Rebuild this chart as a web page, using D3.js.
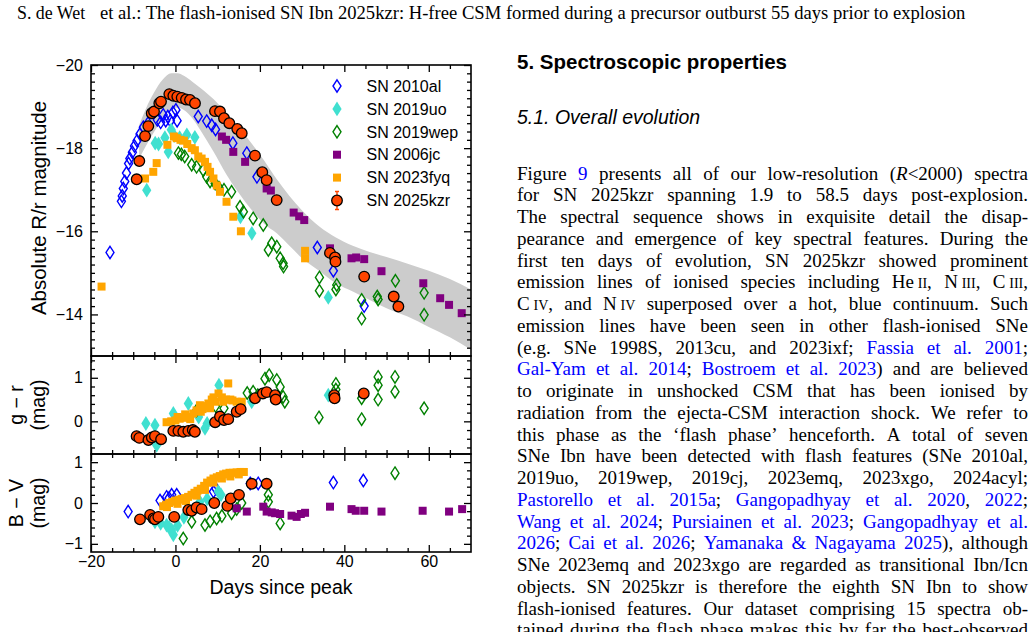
<!DOCTYPE html>
<html><head><meta charset="utf-8">
<script src="https://cdn.jsdelivr.net/npm/d3@7"></script>
<style>html,body{margin:0;padding:0;background:#fff}svg{display:block}</style>
</head><body>
<svg id="c" width="1035" height="632"></svg>
<script>
// ---------------- DATA ----------------
// Template band for SNe Ibn: [day, upper mag, lower mag]
const band = [
 [-8.6,-18.55,-17.75],[-7,-18.95,-18.05],[-5,-19.35,-18.4],[-3,-19.65,-18.7],[-1,-19.8,-18.93],
 [0.5,-19.8,-18.98],[2,-19.74,-18.92],[4,-19.6,-18.72],[6,-19.44,-18.42],[9,-19.18,-17.92],
 [12,-18.85,-17.38],[15,-18.5,-16.92],[18,-18.12,-16.52],[21,-17.7,-16.18],[24,-17.25,-15.95],
 [27,-16.85,-15.65],[30,-16.5,-15.35],[34,-16.12,-15.05],[38,-15.85,-14.75],[42,-15.65,-14.55],
 [46,-15.5,-14.35],[50,-15.38,-14.15],[55,-15.22,-13.95],[60,-15.05,-13.7],[65,-14.85,-13.45],[70,-14.6,-13.15]
];
// Absolute R/r magnitudes [day, mag]
const al_R = [[-15.5,-15.49],[-12.8,-16.72],[-12.6,-16.85],[-12.35,-17.03],[-12.0,-17.2],[-11.6,-17.4],[-11.1,-17.63],[-10.8,-17.75],[-10.2,-17.9],[-9.7,-18.05],[-9.1,-18.18],[-8.4,-18.34],[-7.6,-18.5],[-6.5,-18.6],[-4.3,-18.68],[-3.5,-18.62],[-2.9,-18.8],[-2.3,-18.66],[-1.8,-18.76],[-1.2,-18.66],[-0.6,-18.86],[0.1,-18.92],[0.4,-18.66],[5.4,-18.76],[7.4,-18.65],[8.6,-18.55],[9.5,-18.45],[13.6,-18.12],[16.9,-17.88],[19.3,-17.31],[33.6,-15.61],[37.4,-15.05],[44.7,-14.2]];
const uo_R = [[-6.8,-16.99],[-4.8,-18.12],[-4.0,-18.1],[-2.5,-18.25],[-1.7,-17.91],[-1.0,-18.44],[-0.3,-18.3],[1.0,-18.25],[2.7,-18.32],[4.6,-18.26],[15.4,-16.35],[18.1,-15.95],[36.2,-14.41]];
const wep_R = [[0.7,-17.88],[1.4,-17.85],[2.2,-17.8],[3.85,-17.6],[5.0,-17.55],[6.6,-17.47],[7.4,-17.31],[8.2,-17.2],[9.4,-17.15],[10.3,-17.05],[11.5,-17.0],[13.3,-16.95],[15.3,-16.59],[16.1,-16.47],[18.4,-16.31],[20.8,-16.15],[22.0,-15.55],[22.8,-15.71],[24.0,-15.63],[24.8,-15.35],[25.5,-15.23],[25.6,-15.15],[34.1,-14.89],[34.1,-14.57],[38.2,-14.71],[38.0,-14.6],[44.1,-14.35],[44.1,-13.9],[47.8,-14.43],[48.0,-14.36],[52.1,-14.81],[58.9,-14.52],[58.9,-13.99]];
const jc_R = [[11.0,-18.28],[12.0,-18.2],[13.7,-17.91],[16.5,-17.67],[21.6,-17.03],[22.6,-16.98],[28.0,-16.45],[29.3,-16.36],[30.5,-16.27],[36.6,-15.59],[41.7,-15.35],[42.8,-15.37],[44.7,-15.33],[48.8,-15.04],[58.7,-14.75],[62.7,-14.39],[64.8,-14.23],[67.8,-14.03]];
const fyq_R = [[-17.5,-14.67],[-7.2,-17.27],[-5.25,-17.43],[-4.45,-17.64],[-1.9,-18.08],[-0.35,-18.28],[0.3,-18.24],[1.2,-18.2],[2.0,-18.18],[2.8,-18.1],[3.85,-18.0],[4.6,-17.95],[5.4,-17.8],[6.2,-17.75],[7.0,-17.67],[7.6,-17.55],[8.2,-17.43],[9.0,-17.27],[9.8,-17.1],[10.55,-16.95],[12.1,-16.71],[13.7,-16.35],[15.5,-16.0],[30.7,-15.53],[30.7,-15.35]];
const kzr_R = [[-9.18,-17.25],[-8.56,-17.69],[-7.2,-18.29],[-6.43,-18.53],[-5.62,-18.84],[-5.08,-18.88],[-3.82,-19.08],[-3.42,-19.12],[-1.45,-19.30],[-0.5,-19.26],[0.44,-19.24],[1.48,-19.21],[2.5,-19.17],[3.45,-19.16],[4.63,-19.08],[9.37,-18.89],[10.55,-18.88],[11.5,-18.72],[12.76,-18.6],[14.65,-18.46],[15.7,-18.36],[18.84,-17.82],[20.57,-17.42],[21.6,-17.23],[23.98,-16.75],[36.6,-15.48],[37.8,-15.37],[37.9,-15.27],[44.7,-14.91],[51.7,-14.43],[52.8,-14.19]];
// g - r colours [day, mag]
const uo_gr = [[-7.0,-0.05],[-4.85,-0.09],[-4.45,-0.55],[-3.9,-0.45],[-0.5,0.18],[3.05,0.41],[5.5,0.1],[7.0,-0.16],[7.5,-0.05],[10.3,0.83],[18.06,0.45],[36.2,0.6]];
const wep_gr = [[5.0,0.25],[9.5,0.35],[11.5,0.3],[17.0,0.65],[18.4,0.68],[19.5,0.6],[21.2,0.98],[22.2,1.06],[24.0,0.95],[24.8,0.79],[25.5,0.56],[25.9,0.45],[34.0,0.09],[38.0,0.86],[38.0,0.73],[44.1,0.53],[44.1,0.05],[48.0,1.02],[48.0,0.83],[48.0,0.5],[52.0,1.02],[52.0,0.68],[58.9,0.3]];
const fyq_gr = [[-2.1,-0.02],[-1.0,0.0],[0.0,0.02],[0.5,0.1],[1.0,0.06],[1.85,0.08],[2.3,0.16],[2.8,0.1],[3.5,0.05],[4.2,0.18],[5.0,0.25],[5.8,0.37],[6.0,0.22],[6.4,0.28],[7.0,0.35],[7.8,0.41],[8.2,0.3],[8.6,0.5],[9.0,0.55],[9.4,0.45],[10.2,0.64],[11.0,0.55],[11.3,0.45],[12.0,0.5],[12.5,0.87],[13.0,0.5],[13.5,0.48],[14.5,0.45],[15.7,0.45]];
const kzr_gr = [[-9.2,-0.34],[-8.56,-0.38],[-6.4,-0.43],[-5.6,-0.37],[-4.85,-0.34],[-3.4,-0.41],[-0.5,-0.22],[0.7,-0.22],[1.85,-0.24],[3.05,-0.22],[4.1,-0.2],[4.6,-0.24],[9.4,-0.02],[10.55,0.11],[11.5,0.03],[12.5,0.05],[14.5,0.22],[15.45,0.28],[18.85,0.53],[20.7,0.64],[21.6,0.67],[23.6,0.6],[23.75,0.5],[37.6,0.6],[37.7,0.53],[44.6,0.64]];
// B - V colours [day, mag]
const al_bv = [[-11.2,-0.21],[-3.65,0.06],[-2.1,0.15],[-1.5,0.12],[-0.9,0.2],[0.3,0.2],[9.0,0.28],[9.6,0.35],[17.7,0.48],[19.6,0.48],[37.4,0.5],[44.5,0.55]];
const uo_bv = [[-4.85,-0.46],[-3.5,-0.5],[-2.1,-0.54],[-1.5,-0.6],[-0.9,-0.66],[-0.5,-0.78],[0.5,-0.55],[2.0,-0.35],[4.0,-0.2],[5.8,0.03],[7.5,0.1],[10.15,0.28],[10.8,0.2]];
const wep_bv = [[1.85,-0.87],[3.85,-0.46],[7.0,-0.54],[8.2,-0.45],[9.75,-0.38],[11.0,-0.32],[13.3,-0.25],[14.5,-0.15],[15.7,0.0],[22.0,0.2],[22.0,0.03],[24.8,-0.5],[52.0,0.73]];
const jc_bv = [[14.5,-0.13],[16.9,-0.21],[20.8,-0.09],[21.6,-0.21],[22.8,-0.23],[23.6,-0.25],[24.8,-0.27],[27.5,-0.31],[28.7,-0.34],[29.7,-0.27],[30.7,-0.24],[36.6,-0.09],[41.7,-0.15],[42.7,-0.19],[44.7,-0.19],[48.8,-0.21],[58.55,-0.19],[64.8,-0.21],[67.9,-0.15]];
const fyq_bv = [[-2.9,-0.08],[-2.2,-0.04],[-2.0,-0.1],[-1.5,0.0],[-0.8,0.03],[0.0,0.06],[0.5,-0.02],[0.8,0.08],[1.5,0.1],[2.2,0.12],[2.5,0.05],[3.0,0.15],[3.8,0.2],[4.5,0.25],[5.0,0.18],[5.2,0.3],[6.0,0.35],[6.8,0.42],[7.0,0.32],[7.5,0.5],[8.3,0.55],[9.0,0.6],[9.0,0.5],[9.8,0.63],[10.5,0.66],[11.0,0.6],[11.3,0.7],[12.0,0.72],[12.8,0.74],[13.0,0.65],[13.6,0.74],[14.5,0.75],[15.0,0.7],[15.4,0.76],[16.2,0.76]];
const kzr_bv = [[-8.4,-0.4],[-6.0,-0.29],[-5.2,-0.38],[-4.85,-0.4],[-4.05,-0.34],[-0.3,-0.34],[3.05,-0.17],[3.85,-0.19],[5.0,-0.11],[6.2,-0.15],[9.2,0.0],[12.3,-0.07],[13.1,0.11],[15.05,0.2],[18.06,0.47],[21.6,0.47]];

const legendNames = ["SN 2010al","SN 2019uo","SN 2019wep","SN 2006jc","SN 2023fyq","SN 2025kzr"];
const legendKeys = ["al","uo","wep","jc","fyq","kzr"];
const xMajor = [-20,0,20,40,60];
const magMajor = [-20,-18,-16,-14];
const grMajor = [0,1];
const bvMajor = [-1,0,1];

const headerAuthor = "S. de Wet";
const headerTitle = "et al.: The flash-ionised SN Ibn 2025kzr: H-free CSM formed during a precursor outburst 55 days prior to explosion";
const sectionTitle = "5. Spectroscopic properties";
const subsectionTitle = "5.1. Overall evolution";
const bodyLines = [
"Figure {9} presents all of our low-resolution (_R_<2000) spectra",
"for SN 2025kzr spanning 1.9 to 58.5 days post-explosion.",
"The spectral sequence shows in exquisite detail the disap-",
"pearance and emergence of key spectral features. During the",
"first ten days of evolution, SN 2025kzr showed prominent",
"emission lines of ionised species including He\u2009^II^, N\u2009^III^, C\u2009^III^,",
"C\u2009^IV^, and N\u2009^IV^ superposed over a hot, blue continuum. Such",
"emission lines have been seen in other flash-ionised SNe",
"(e.g. SNe 1998S, 2013cu, and 2023ixf; {Fassia et al. 2001};",
"{Gal-Yam et al. 2014}; {Bostroem et al. 2023}) and are believed",
"to originate in unshocked CSM that has been ionised by",
"radiation from the ejecta-CSM interaction shock. We refer to",
"this phase as the \u2018flash phase\u2019 henceforth. A total of seven",
"SNe Ibn have been detected with flash features (SNe 2010al,",
"2019uo, 2019wep, 2019cj, 2023emq, 2023xgo, 2024acyl;",
"{Pastorello et al. 2015a}; {Gangopadhyay et al. 2020}, {2022};",
"{Wang et al. 2024}; {Pursiainen et al. 2023}; {Gangopadhyay et al.}",
"{2026}; {Cai et al. 2026}; {Yamanaka & Nagayama 2025}), although",
"SNe 2023emq and 2023xgo are regarded as transitional Ibn/Icn",
"objects. SN 2025kzr is therefore the eighth SN Ibn to show",
"flash-ionised features. Our dataset comprising 15 spectra ob-",
"tained during the flash phase makes this by far the best-observed"
];

// ---------------- DRAWING ----------------
const SANS = '"Liberation Sans", Arial, Helvetica, sans-serif';
const SERIF = '"Liberation Serif", "Times New Roman", Times, serif';
const svg = d3.select('#c');
svg.append('rect').attr('width',1035).attr('height',632).attr('fill','#fff');

const x = d3.scaleLinear().domain([-20,70]).range([91,471]);
const yR = d3.scaleLinear().domain([-20,-13]).range([65,356]);
const yGR = d3.scaleLinear().domain([-0.75,1.5]).range([454,356]);
const yBV = d3.scaleLinear().domain([-1.2,1.2]).range([552,454]);

const styles = {
  al:  {shape:'diamond', fill:'none', stroke:'#0000ff'},
  uo:  {shape:'fdiamond', fill:'#40e0d0', stroke:'none'},
  wep: {shape:'diamond', fill:'none', stroke:'#008000'},
  jc:  {shape:'square', fill:'#800080', stroke:'none'},
  fyq: {shape:'square', fill:'#ffa500', stroke:'none'},
  kzr: {shape:'circle', fill:'#ff4500', stroke:'#000'}
};
function shapePath(s){
  if(s==='diamond') return 'M0,-6.2L4,0L0,6.2L-4,0Z';
  if(s==='fdiamond') return 'M0,-7.4L4.6,0L0,7.4L-4.6,0Z';
  if(s==='square') return 'M-4,-4H4V4H-4Z';
  return d3.arc()({innerRadius:0,outerRadius:5.3,startAngle:0,endAngle:2*Math.PI});
}
function drawSeries(g, data, yS, key){
  const st = styles[key];
  g.append('g').selectAll('path').data(data).join('path')
    .attr('transform', d=>`translate(${x(d[0])},${yS(d[1])})`)
    .attr('d', shapePath(st.shape))
    .attr('fill', st.fill)
    .attr('stroke', st.stroke)
    .attr('stroke-width', st.shape==='circle'?1.3:1.4);
}

// clip paths
const defs = svg.append('defs');
[['cR',65,356],['cGR',356,454],['cBV',454,552]].forEach(([id,t,b])=>{
  defs.append('clipPath').attr('id',id).append('rect').attr('x',91).attr('y',t).attr('width',380).attr('height',b-t);
});

// top panel
const gTop = svg.append('g').attr('clip-path','url(#cR)');
gTop.append('path').datum(band)
  .attr('d', d3.area().x(d=>x(d[0])).y0(d=>yR(d[2])).y1(d=>yR(d[1])).curve(d3.curveMonotoneX))
  .attr('fill','#cccccc');
drawSeries(gTop, al_R, yR, 'al');
drawSeries(gTop, uo_R, yR, 'uo');
drawSeries(gTop, wep_R, yR, 'wep');
drawSeries(gTop, jc_R, yR, 'jc');
drawSeries(gTop, fyq_R, yR, 'fyq');
drawSeries(gTop, kzr_R, yR, 'kzr');

const gGR = svg.append('g').attr('clip-path','url(#cGR)');
drawSeries(gGR, uo_gr, yGR, 'uo');
drawSeries(gGR, wep_gr, yGR, 'wep');
drawSeries(gGR, fyq_gr, yGR, 'fyq');
drawSeries(gGR, kzr_gr, yGR, 'kzr');

const gBV = svg.append('g').attr('clip-path','url(#cBV)');
drawSeries(gBV, al_bv, yBV, 'al');
drawSeries(gBV, uo_bv, yBV, 'uo');
drawSeries(gBV, wep_bv, yBV, 'wep');
drawSeries(gBV, jc_bv, yBV, 'jc');
drawSeries(gBV, fyq_bv, yBV, 'fyq');
drawSeries(gBV, kzr_bv, yBV, 'kzr');

// axes
function minorTicks(lo, hi, step, majors){
  const out=[]; const n=Math.round((hi-lo)/step);
  for(let i=0;i<=n;i++){const v=+(lo+i*step).toFixed(4); if(!majors.some(m=>Math.abs(m-v)<1e-6)) out.push(v);}
  return out;
}
function styleAxis(g){
  g.select('.domain').remove();
  g.selectAll('line').attr('stroke','#000').attr('stroke-width',1.3);
  g.attr('font-family',SANS).attr('font-size',16).attr('fill','#000');
  g.selectAll('text').attr('fill','#000');
}
const fmt = d3.format('d');
const xMinor = minorTicks(-15,65,5,xMajor);
function panelAxes(yS, top, bottom, yMaj, yMin, xLabels){
  svg.append('g').attr('transform','translate(91,0)').call(d3.axisLeft(yS).tickValues(yMaj).tickSize(-7).tickPadding(8).tickFormat(fmt)).call(styleAxis);
  svg.append('g').attr('transform','translate(91,0)').call(d3.axisLeft(yS).tickValues(yMin).tickSize(-4).tickFormat('')).call(styleAxis);
  svg.append('g').attr('transform','translate(471,0)').call(d3.axisRight(yS).tickValues(yMaj).tickSize(-7).tickFormat('')).call(styleAxis);
  svg.append('g').attr('transform','translate(471,0)').call(d3.axisRight(yS).tickValues(yMin).tickSize(-4).tickFormat('')).call(styleAxis);
  svg.append('g').attr('transform',`translate(0,${top})`).call(d3.axisTop(x).tickValues(xMajor).tickSize(-7).tickFormat('')).call(styleAxis);
  svg.append('g').attr('transform',`translate(0,${top})`).call(d3.axisTop(x).tickValues(xMinor).tickSize(-4).tickFormat('')).call(styleAxis);
  svg.append('g').attr('transform',`translate(0,${bottom})`).call(d3.axisBottom(x).tickValues(xMajor).tickSize(-7).tickPadding(4).tickFormat(xLabels?fmt:'')).call(styleAxis);
  svg.append('g').attr('transform',`translate(0,${bottom})`).call(d3.axisBottom(x).tickValues(xMinor).tickSize(-4).tickFormat('')).call(styleAxis);
  svg.append('rect').attr('x',91).attr('y',top).attr('width',380).attr('height',bottom-top)
    .attr('fill','none').attr('stroke','#000').attr('stroke-width',1.6);
}
panelAxes(yR, 65, 356, magMajor, minorTicks(-19.8,-13.2,0.2,magMajor), false);
panelAxes(yGR, 356, 454, grMajor, minorTicks(-0.6,1.4,0.2,grMajor), false);
panelAxes(yBV, 454, 552, bvMajor, minorTicks(-1.0,1.0,0.2,bvMajor), true);

// axis titles
function vText(cx, cy, txt, size){
  svg.append('text').attr('transform',`translate(${cx},${cy}) rotate(-90)`)
    .attr('text-anchor','middle').attr('dominant-baseline','central')
    .attr('font-family',SANS).attr('font-size',size).attr('fill','#000').text(txt);
}
vText(38, 208, 'Absolute R/r magnitude', 20.5);
vText(16, 405, 'g \u2212 r', 19.5);
vText(38, 405, '(mag)', 19.5);
vText(16, 503, 'B \u2212 V', 19.5);
vText(38, 503, '(mag)', 19.5);
svg.append('text').attr('x',281).attr('y',594).attr('text-anchor','middle')
  .attr('font-family',SANS).attr('font-size',19.5).attr('fill','#000').text('Days since peak');

// legend
const gLeg = svg.append('g');
legendKeys.forEach((k,i)=>{
  const cy = 86 + i*22.9;
  const st = styles[k];
  if(k==='kzr'){
    gLeg.append('path').attr('d',`M337,${cy-9}V${cy+9}M335,${cy-9}H339M335,${cy+9}H339`).attr('stroke','#ff4500').attr('stroke-width',1.4).attr('fill','none');
  }
  gLeg.append('path').attr('transform',`translate(337,${cy})`).attr('d',shapePath(st.shape))
    .attr('fill',st.fill).attr('stroke',st.stroke).attr('stroke-width',st.shape==='circle'?1.3:1.4);
  gLeg.append('text').attr('x',366.5).attr('y',cy).attr('dy','0.36em')
    .attr('font-family',SANS).attr('font-size',16).attr('fill','#000').text(legendNames[i]);
});

// ---------------- PAGE TEXT ----------------
const ht = svg.append('text').attr('x',100).attr('y',19).attr('font-family',SERIF).attr('font-size',16.5).attr('fill','#000').text(headerTitle);
const hSize = 16.5*866/ht.node().getComputedTextLength();
ht.attr('font-size', hSize);
svg.append('text').attr('x',17).attr('y',19).attr('font-family',SERIF).attr('font-size',hSize*0.96).attr('fill','#000').text(headerAuthor);

svg.append('text').attr('x',517).attr('y',69).attr('font-family',SANS).attr('font-weight','bold').attr('font-size',20.5).attr('fill','#000').text(sectionTitle);
svg.append('text').attr('x',517).attr('y',124).attr('font-family',SANS).attr('font-style','italic').attr('font-size',19.5).attr('fill','#000').text(subsectionTitle);

function parseRuns(s){
  const runs=[]; let st={link:false,it:false,sc:false}; let buf='';
  const flush=()=>{ if(buf){ runs.push({t:buf,...st}); buf=''; } };
  for(const ch of s){
    if(ch==='{'){flush(); st={...st,link:true};}
    else if(ch==='}'){flush(); st={...st,link:false};}
    else if(ch==='_'){flush(); st={...st,it:!st.it};}
    else if(ch==='^'){flush(); st={...st,sc:!st.sc};}
    else buf+=ch;
  }
  flush(); return runs;
}
function splitWords(runs){
  const words=[]; let cur=[];
  runs.forEach(r=>{
    const parts=r.t.split(' ');
    parts.forEach((p,i)=>{
      if(i>0){ if(cur.length) words.push(cur); cur=[]; }
      if(p) cur.push({...r,t:p});
    });
  });
  if(cur.length) words.push(cur);
  return words;
}
const gBody = svg.append('g').attr('font-family',SERIF).attr('font-size',19).attr('fill','#000');
const X0=517, X1=1028;
bodyLines.forEach((line,i)=>{
  const y = 179.5 + i*21.75;
  const words = splitWords(parseRuns(line));
  const nodes = words.map(w=>{
    const t = gBody.append('text').attr('y',y);
    w.forEach(r=>{
      const ts = t.append('tspan').text(r.t);
      if(r.link) ts.attr('fill','#0000ff');
      if(r.it) ts.attr('font-style','italic');
      if(r.sc) ts.attr('font-size',14);
    });
    return t;
  });
  const widths = nodes.map(n=>n.node().getComputedTextLength());
  const total = d3.sum(widths);
  const gap = nodes.length>1 ? Math.max(2,(X1-X0-total)/(nodes.length-1)) : 0;
  let cx = X0;
  nodes.forEach((n,k)=>{ n.attr('x',cx); cx += widths[k]+gap; });
});
</script>
</body></html>
